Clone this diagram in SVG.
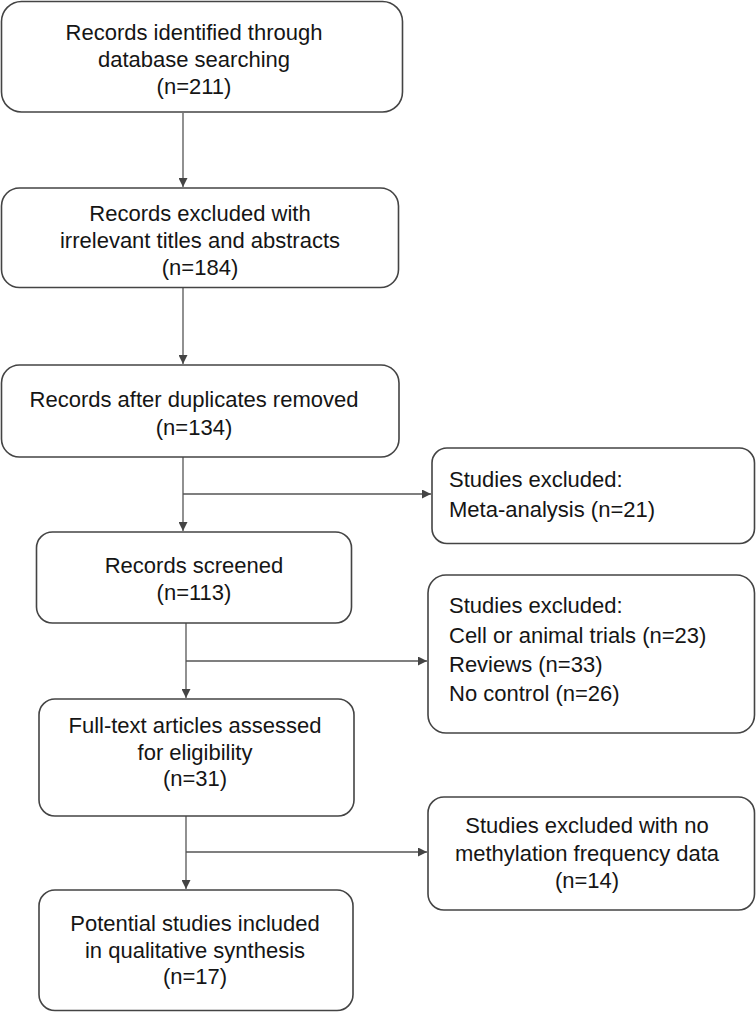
<svg xmlns="http://www.w3.org/2000/svg" width="756" height="1012" viewBox="0 0 756 1012">
<style>
.box{fill:#fff;stroke:#444;stroke-width:1.6}
.t{font-family:"Liberation Sans",Arial,sans-serif;font-size:22px;fill:#151515}
.c{text-anchor:middle}
.ln{stroke:#555;stroke-width:1.3;fill:none}
</style>
<defs>
<marker id="ah" viewBox="0 0 10 10" refX="10" refY="5" markerWidth="9" markerHeight="9" markerUnits="userSpaceOnUse" orient="auto">
<path d="M0,0 L10,5 L0,10 z" fill="#444"/>
</marker>
</defs>
<rect width="756" height="1012" fill="#fff"/>
<g id="connectors">
<line class="ln" x1="183" y1="113" x2="183" y2="187" marker-end="url(#ah)"/>
<line class="ln" x1="183" y1="288" x2="183" y2="364" marker-end="url(#ah)"/>
<line class="ln" x1="183" y1="457" x2="183" y2="531" marker-end="url(#ah)"/>
<line class="ln" x1="183" y1="494" x2="431" y2="494" marker-end="url(#ah)"/>
<line class="ln" x1="186" y1="623" x2="186" y2="698" marker-end="url(#ah)"/>
<line class="ln" x1="186" y1="661" x2="427" y2="661" marker-end="url(#ah)"/>
<line class="ln" x1="186" y1="816" x2="186" y2="889" marker-end="url(#ah)"/>
<line class="ln" x1="186" y1="852" x2="427" y2="852" marker-end="url(#ah)"/>
</g>
<g id="n1">
<rect class="box" x="1.5" y="1.5" width="401" height="110.5" rx="20"/>
<text class="t c" x="194" y="40">Records identified through</text>
<text class="t c" x="194" y="67">database searching</text>
<text class="t c" x="194" y="94">(n=211)</text>
</g>
<g id="n2">
<rect class="box" x="1.5" y="188" width="397" height="99.5" rx="18"/>
<text class="t c" x="200" y="221">Records excluded with</text>
<text class="t c" x="200" y="248">irrelevant titles and abstracts</text>
<text class="t c" x="200" y="275">(n=184)</text>
</g>
<g id="n3">
<rect class="box" x="1.5" y="365" width="397.5" height="92" rx="18"/>
<text class="t c" x="194" y="407">Records after duplicates removed</text>
<text class="t c" x="194" y="435">(n=134)</text>
</g>
<g id="n4">
<rect class="box" x="36.5" y="532" width="315" height="91" rx="16"/>
<text class="t c" x="194" y="573">Records screened</text>
<text class="t c" x="194" y="600">(n=113)</text>
</g>
<g id="n5">
<rect class="box" x="39" y="699" width="315" height="117" rx="16"/>
<text class="t c" x="195" y="733">Full-text articles assessed</text>
<text class="t c" x="195" y="760">for eligibility</text>
<text class="t c" x="195" y="786">(n=31)</text>
</g>
<g id="n6">
<rect class="box" x="39" y="890" width="314" height="120.5" rx="16"/>
<text class="t c" x="195" y="931">Potential studies included</text>
<text class="t c" x="195" y="958">in qualitative synthesis</text>
<text class="t c" x="195" y="984">(n=17)</text>
</g>
<g id="s1">
<rect class="box" x="432" y="448" width="322.5" height="95.5" rx="15"/>
<text class="t" x="449" y="487">Studies excluded:</text>
<text class="t" x="449" y="517">Meta-analysis (n=21)</text>
</g>
<g id="s2">
<rect class="box" x="428" y="575" width="326.5" height="158" rx="18"/>
<text class="t" x="449" y="613">Studies excluded:</text>
<text class="t" x="449" y="643">Cell or animal trials (n=23)</text>
<text class="t" x="449" y="672">Reviews (n=33)</text>
<text class="t" x="449" y="701">No control (n=26)</text>
</g>
<g id="s3">
<rect class="box" x="428" y="797" width="326.5" height="113" rx="16"/>
<text class="t c" x="587" y="833">Studies excluded with no</text>
<text class="t c" x="587" y="861">methylation frequency data</text>
<text class="t c" x="587" y="888">(n=14)</text>
</g>
</svg>
